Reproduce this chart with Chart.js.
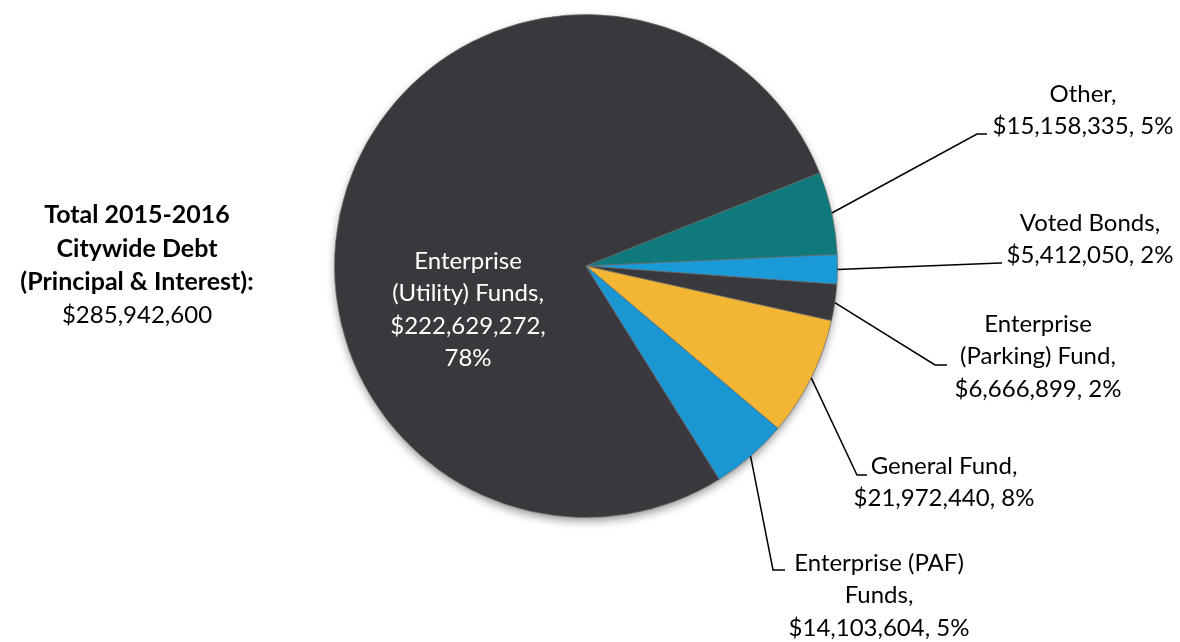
<!DOCTYPE html>
<html>
<head>
<meta charset="utf-8">
<script src="https://cdn.jsdelivr.net/npm/chart.js@4/dist/chart.umd.min.js"></script>
<style>
  html, body { margin: 0; padding: 0; background: #ffffff; }
  #wrap { position: relative; width: 1180px; height: 642px; }
</style>
</head>
<body>
<div id="wrap"><canvas id="debtPie" width="1180" height="642"></canvas></div>
<script>
// Citywide debt service by fund, 2015-2016
const categories = [
  'Enterprise (Utility) Funds',
  'Other',
  'Voted Bonds',
  'Enterprise (Parking) Fund',
  'General Fund',
  'Enterprise (PAF) Funds'
];
const amounts = [222629272, 15158335, 5412050, 6666899, 21972440, 14103604];
const percentLabels = ['78%', '5%', '2%', '2%', '8%', '5%'];
const sliceColors = ['#39393d', '#10797b', '#1a9ad6', '#39393d', '#f2b534', '#1a96d2'];
const totalLabel = ['Total 2015-2016', 'Citywide Debt', '(Principal & Interest):'];
const totalAmount = '$285,942,600';

const FONT = 'Lato, "Liberation Sans", sans-serif';
const FONT_SIZE = 24;
const fmt = v => '$' + v.toLocaleString('en-US');

// Label text lines for each slice
const labelLines = [
  ['Enterprise', '(Utility) Funds,', fmt(amounts[0]) + ',', percentLabels[0]],
  ['Other,', fmt(amounts[1]) + ', ' + percentLabels[1]],
  ['Voted Bonds,', fmt(amounts[2]) + ', ' + percentLabels[2]],
  ['Enterprise', '(Parking) Fund,', fmt(amounts[3]) + ', ' + percentLabels[3]],
  ['General Fund,', fmt(amounts[4]) + ', ' + percentLabels[4]],
  ['Enterprise (PAF)', 'Funds,', fmt(amounts[5]) + ', ' + percentLabels[5]]
];

// Label placement: text block centre x, first-line y, and leader elbow / end points
const labelPlacement = [
  { cx: 468, y0: 261, inside: true },
  { cx: 1083, y0: 94, elbow: [977, 134], end: [987, 134] },
  { cx: 1090, y0: 223, elbow: [1000, 263], end: [1002, 263] },
  { cx: 1038, y0: 324, elbow: [935, 365], end: [947, 365] },
  { cx: 944, y0: 466, elbow: [857, 475], end: [867, 475] },
  { cx: 879, y0: 563, elbow: [773, 570], end: [785, 570] }
];
const LINE_H = 32.5;

function shade(hex, f) {
  const n = parseInt(hex.slice(1), 16);
  let r = (n >> 16) & 255, g = (n >> 8) & 255, b = n & 255;
  r = Math.round(r * f); g = Math.round(g * f); b = Math.round(b * f);
  return `rgb(${r},${g},${b})`;
}

// Slight darkening toward the rim gives the slices a rounded, bevelled look
function sliceFill(ctx) {
  const chart = ctx.chart;
  const arc = chart.getDatasetMeta(0).data[ctx.dataIndex];
  const base = sliceColors[ctx.dataIndex];
  if (!arc || !arc.outerRadius) return base;
  const g = chart.ctx.createRadialGradient(arc.x, arc.y, 0, arc.x, arc.y, arc.outerRadius);
  g.addColorStop(0, shade(base, 1.0));
  g.addColorStop(0.9, shade(base, 0.97));
  g.addColorStop(0.97, shade(base, 0.88));
  g.addColorStop(1, shade(base, 0.78));
  return g;
}

const shadowPlugin = {
  id: 'pieShadow',
  beforeDatasetsDraw(chart) {
    const arc = chart.getDatasetMeta(0).data[0];
    if (!arc) return;
    const c = chart.ctx;
    c.save();
    c.shadowColor = 'rgba(0,0,0,0.45)';
    c.shadowBlur = 10;
    c.shadowOffsetY = 4;
    c.fillStyle = '#3a3a3e';
    c.beginPath();
    c.arc(arc.x, arc.y, arc.outerRadius - 1, 0, Math.PI * 2);
    c.fill();
    c.restore();
  }
};

const labelPlugin = {
  id: 'sliceLabels',
  afterDatasetsDraw(chart) {
    const c = chart.ctx;
    const arcs = chart.getDatasetMeta(0).data;
    c.save();
    c.textAlign = 'center';
    c.textBaseline = 'middle';
    c.font = FONT_SIZE + 'px ' + FONT;
    arcs.forEach((arc, i) => {
      const p = labelPlacement[i];
      const lines = labelLines[i];
      if (!p.inside) {
        const mid = (arc.startAngle + arc.endAngle) / 2;
        const sx = arc.x + Math.cos(mid) * arc.outerRadius;
        const sy = arc.y + Math.sin(mid) * arc.outerRadius;
        c.strokeStyle = '#000000';
        c.lineWidth = 1.5;
        c.beginPath();
        c.moveTo(sx, sy);
        c.lineTo(p.elbow[0], p.elbow[1]);
        c.lineTo(p.end[0], p.end[1]);
        c.stroke();
      }
      c.fillStyle = p.inside ? '#ffffff' : '#000000';
      lines.forEach((t, k) => c.fillText(t, p.cx, p.y0 + k * LINE_H));
    });

    // Total block on the left
    c.fillStyle = '#000000';
    c.font = 'bold 25px ' + FONT;
    totalLabel.forEach((t, k) => c.fillText(t, 137, 215 + k * 33.5));
    c.font = FONT_SIZE + 'px ' + FONT;
    c.fillText(totalAmount, 137, 315);
    c.restore();
  }
};

new Chart(document.getElementById('debtPie'), {
  type: 'pie',
  data: {
    labels: categories,
    datasets: [{
      data: amounts,
      backgroundColor: sliceFill,
      borderColor: 'rgba(110,110,110,0.7)',
      borderWidth: 1,
      hoverOffset: 0
    }]
  },
  options: {
    responsive: false,
    animation: false,
    rotation: 148,
    layout: { padding: { left: 334, right: 342, top: 14, bottom: 124 } },
    plugins: {
      legend: { display: false },
      tooltip: { enabled: false }
    }
  },
  plugins: [shadowPlugin, labelPlugin]
});
</script>
</body>
</html>
